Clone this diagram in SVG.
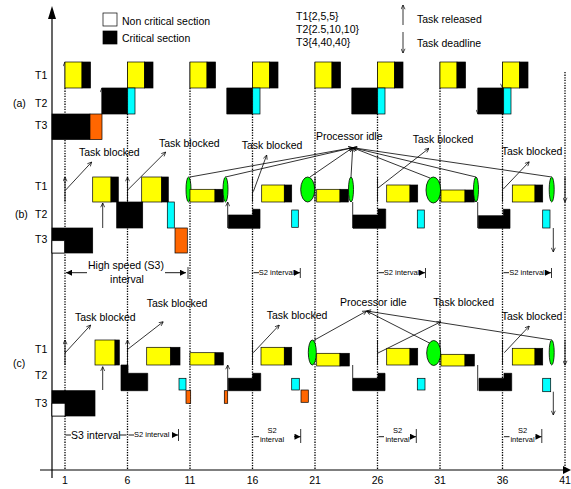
<svg xmlns="http://www.w3.org/2000/svg" width="571" height="489" viewBox="0 0 571 489">
<defs>
<style>
text{font-family:"Liberation Sans",Arial,sans-serif;font-size:10.5px;fill:#000}
.s{font-size:7.5px}
.m{text-anchor:middle}
.y{fill:#ffff00;stroke:#000;stroke-width:0.7}
.k{fill:#000;stroke:#000;stroke-width:0.7}
.c{fill:#00ffff;stroke:#000;stroke-width:0.7}
.o{fill:#ff6600;stroke:#000;stroke-width:0.7}
.g{fill:#00ff00;stroke:#000;stroke-width:0.8}
.w{fill:#fff;stroke:#000;stroke-width:0.7}
.dot{stroke:#000;stroke-width:1.3;stroke-dasharray:1.3 1.3;fill:none}
.ln{stroke:#000;stroke-width:0.8;fill:none}
.dbl{stroke:#000;stroke-width:0.8;fill:none;marker-start:url(#ah);marker-end:url(#ah)}
.ar{stroke:#000;stroke-width:0.8;fill:none;marker-end:url(#ah)}
.fa{stroke:#000;stroke-width:0.9;fill:none;marker-end:url(#fh)}
</style>
<marker id="ah" viewBox="0 0 10 10" refX="9.5" refY="5" markerWidth="5" markerHeight="5" markerUnits="userSpaceOnUse" orient="auto-start-reverse"><path d="M1,1 L9.5,5 L1,9" fill="none" stroke="#000" stroke-width="1.4"/></marker>
<marker id="fh" viewBox="0 0 10 10" refX="10" refY="5" markerWidth="7" markerHeight="6" markerUnits="userSpaceOnUse" orient="auto-start-reverse"><path d="M0,0 L10,5 L0,10 z" fill="#000"/></marker>
</defs>
<rect width="571" height="489" fill="#fff"/>

<g id="connectors">
  <!-- dotted time lines -->
  <path class="dot" d="M65,88V470M127.5,88V470M190,88V470M252.5,88V470M315,88V470M377.5,88V470M440,88V470M502.5,88V470M565,72V470"/>
  <!-- axes -->
  <path d="M52,16V478" stroke="#000" stroke-width="1.2"/>
  <path d="M52,6L48,19H56Z" fill="#000"/>
  <path d="M40,470H564" stroke="#000" stroke-width="1.2"/>
  <path d="M571,470L563,466V474Z" fill="#000"/>
  <!-- legend arrows -->
  <path class="ar" d="M403,25V5"/>
  <path class="ar" d="M403,32V53"/>
  <!-- (a) release/deadline arrows -->
  <path class="dbl" d="M65,62V88M127.5,62V88M190,62V88M252.5,62V88M315,62V88M377.5,62V88M440,62V88M502.5,62V88"/>
  <path class="dbl" d="M102,88V114M227,88V114M352,88V114M478,88V114"/>
  <!-- (b) arrows -->
  <path class="ar" d="M65,202V177"/>
  <path class="dbl" d="M127.5,177V202M252.5,177V202M315,177V202M377.5,177V202M440,177V202M502.5,177V202M565,177V202"/>
  <path class="ar" d="M102.7,228V203"/>
  <path class="dbl" d="M227.7,202V228M352.7,202V228M477.7,202V228M553.3,228V252"/>
  <!-- (b) task blocked arrows -->
  <path class="ar" d="M65.7,190L91.7,162"/>
  <path class="ar" d="M127.7,190L165.7,152"/>
  <path class="ar" d="M253.3,191.7L266.7,155"/>
  <path class="ar" d="M378,188L429,148.3"/>
  <path class="ar" d="M503.3,189L529.3,161.7"/>
  <!-- (b) processor idle lines -->
  <path class="ar" d="M190,177L352.7,147.7"/>
  <path class="ar" d="M225.5,177L352.7,147.7"/>
  <path class="ar" d="M310,177L352.7,147.7"/>
  <path class="ar" d="M351,177L352.7,147.7"/>
  <path class="ar" d="M430,178L352.7,147.7"/>
  <path class="ar" d="M476,177L352.7,147.7"/>
  <path class="ar" d="M551.7,177L352.7,147.7"/>
  <!-- (b) intervals -->
  <path class="fa" d="M87,272.7H66"/>
  <path class="fa" d="M165,272.7H186"/>
  <path class="ln" d="M188,267V279"/>
  <path class="fa" d="M259,272.7H253.5M294,272.7H300"/>
  <path class="ln" d="M300.3,268V278"/>
  <path class="fa" d="M384,272.7H378.5M419,272.7H425"/>
  <path class="ln" d="M425.5,268V278"/>
  <path class="fa" d="M509,272.7H503.5M545,272.7H551"/>
  <path class="ln" d="M551.5,268V278"/>
  <!-- (c) arrows -->
  <path class="ar" d="M65,365V340"/>
  <path class="dbl" d="M127.5,340V365M252.5,340V365M377.5,340V365M440,340V365M502.5,340V365M565,340V365"/>
  <path class="ar" d="M102.7,390V366.7"/>
  <path class="dbl" d="M227.7,365V390.7M352.7,365V390.7M477.7,365V390.7M553.3,391.7V415"/>
  <!-- (c) task blocked arrows -->
  <path class="ar" d="M65,353L90.7,325"/>
  <path class="ar" d="M127.7,349.3L163.3,321.7"/>
  <path class="ar" d="M253.3,352.7L279.3,325"/>
  <path class="ar" d="M378,353L441,321.7"/>
  <path class="ar" d="M504.3,352.7L529.3,326"/>
  <!-- (c) processor idle lines -->
  <path class="ar" d="M313.3,340.7L366.7,311"/>
  <path class="ar" d="M430,343.3L366.7,311"/>
  <path class="ar" d="M551.7,340L366.7,311"/>
  <!-- (c) intervals -->
  <path class="fa" d="M71,435H65.5M120,435H126.5M134,435H128.5M172,435H178"/>
  <path class="ln" d="M178.5,429V441"/>
  <path class="fa" d="M259,436.7H253.5M294,436.7H300.5"/>
  <path class="ln" d="M300.7,429V443"/>
  <path class="fa" d="M384,436.7H378.5M410,436.7H416"/>
  <path class="ln" d="M416.3,429V443"/>
  <path class="fa" d="M509.5,436.7H504M535.5,436.7H541.5"/>
  <path class="ln" d="M541.8,429V443"/>
</g>

<g id="legend">
  <rect class="w" x="103" y="13" width="14" height="13"/>
  <text x="122" y="25">Non critical section</text>
  <rect class="k" x="103" y="31" width="14" height="13"/>
  <text x="122" y="41.5">Critical section</text>
  <text x="296" y="19.5">T1{2,5,5}</text>
  <text x="296" y="32.5">T2{2.5,10,10}</text>
  <text x="296" y="45.5">T3{4,40,40}</text>
  <text x="417" y="23">Task released</text>
  <text x="417" y="46.5">Task deadline</text>
</g>

<g id="axis-labels">
  <text class="m" x="65" y="483.5">1</text>
  <text class="m" x="127.5" y="483.5">6</text>
  <text class="m" x="190" y="483.5">11</text>
  <text class="m" x="252.5" y="483.5">16</text>
  <text class="m" x="315" y="483.5">21</text>
  <text class="m" x="377.5" y="483.5">26</text>
  <text class="m" x="440" y="483.5">31</text>
  <text class="m" x="502.5" y="483.5">36</text>
  <text class="m" x="565" y="483.5">41</text>
</g>

<g id="section-a">
  <text x="35" y="79">T1</text>
  <text x="13" y="107">(a)</text>
  <text x="35" y="107">T2</text>
  <text x="35" y="129">T3</text>
  <g id="a-T1">
    <rect class="y" x="65" y="62" width="17" height="26"/><rect class="k" x="82" y="62" width="8.5" height="26"/>
    <rect class="y" x="127.5" y="62" width="17" height="26"/><rect class="k" x="144.5" y="62" width="8.5" height="26"/>
    <rect class="y" x="190" y="62" width="17" height="26"/><rect class="k" x="207" y="62" width="8.5" height="26"/>
    <rect class="y" x="252.5" y="62" width="17" height="26"/><rect class="k" x="269.5" y="62" width="8.5" height="26"/>
    <rect class="y" x="315" y="62" width="17" height="26"/><rect class="k" x="332" y="62" width="8.5" height="26"/>
    <rect class="y" x="377.5" y="62" width="17" height="26"/><rect class="k" x="394.5" y="62" width="8.5" height="26"/>
    <rect class="y" x="440" y="62" width="17" height="26"/><rect class="k" x="457" y="62" width="8.5" height="26"/>
    <rect class="y" x="502.5" y="62" width="17" height="26"/><rect class="k" x="519.5" y="62" width="8.5" height="26"/>
  </g>
  <g id="a-T2">
    <rect class="k" x="102" y="88" width="25.7" height="26"/><rect class="c" x="127.7" y="88" width="7.3" height="26"/>
    <rect class="k" x="227" y="88" width="25.7" height="26"/><rect class="c" x="252.7" y="88" width="7.3" height="26"/>
    <rect class="k" x="352" y="88" width="25.7" height="26"/><rect class="c" x="377.7" y="88" width="7.3" height="26"/>
    <rect class="k" x="478" y="88" width="25.7" height="26"/><rect class="c" x="503.7" y="88" width="7.3" height="26"/>
  </g>
  <g id="a-T3">
    <rect class="k" x="52" y="114" width="38" height="25.5"/><rect class="o" x="90" y="114" width="12" height="25.5"/>
  </g>
</g>

<g id="section-b">
  <text x="35" y="190">T1</text>
  <text x="15" y="218">(b)</text>
  <text x="35" y="218">T2</text>
  <text x="35" y="243">T3</text>
  <g id="b-T1">
    <rect class="y" x="92.7" y="177" width="18.3" height="25"/><rect class="k" x="111" y="177" width="7.3" height="25"/>
    <rect class="y" x="141.7" y="177" width="20" height="25"/><rect class="k" x="161.7" y="177" width="6.6" height="25"/>
    <ellipse class="g" cx="188.5" cy="189.5" rx="2.5" ry="12.5"/>
    <rect class="y" x="190" y="189.3" width="25" height="12.7"/><rect class="k" x="215" y="189.3" width="8.3" height="12.7"/>
    <ellipse class="g" cx="225.5" cy="189.5" rx="2.5" ry="12.5"/>
    <rect class="y" x="261.7" y="185" width="22.6" height="17"/><rect class="k" x="284.3" y="185" width="7.4" height="17"/>
    <ellipse class="g" cx="307.7" cy="189.5" rx="7" ry="12.5"/>
    <rect class="y" x="316.7" y="189.3" width="23.3" height="12.7"/><rect class="k" x="340" y="189.3" width="8.3" height="12.7"/>
    <ellipse class="g" cx="351" cy="189.5" rx="2.5" ry="12.5"/>
    <rect class="y" x="386.7" y="185" width="23.3" height="17"/><rect class="k" x="410" y="185" width="7.7" height="17"/>
    <ellipse class="g" cx="433.3" cy="190" rx="7.3" ry="13"/>
    <rect class="y" x="441" y="190" width="24" height="12"/><rect class="k" x="465" y="190" width="9.3" height="12"/>
    <ellipse class="g" cx="476" cy="189.5" rx="2.5" ry="12.5"/>
    <rect class="y" x="512.3" y="185" width="22.7" height="17"/><rect class="k" x="535" y="185" width="7.7" height="17"/>
    <ellipse class="g" cx="551.7" cy="189.5" rx="2.5" ry="12.5"/>
  </g>
  <g id="b-T2">
    <rect class="k" x="116.7" y="202" width="26" height="26"/>
    <rect class="c" x="167.3" y="202" width="7" height="26"/>
    <path class="k" d="M228.3,215H252.7V209.3H260V228.3H228.3Z"/>
    <rect class="c" x="291.7" y="210" width="6.6" height="17.3"/>
    <path class="k" d="M353,215H378V209H385.7V228.3H353Z"/>
    <rect class="c" x="417.3" y="210" width="7" height="18"/>
    <path class="k" d="M478.3,215.7H503.3V209.3H510V228.3H478.3Z"/>
    <rect class="c" x="542.7" y="210" width="7.3" height="18"/>
  </g>
  <g id="b-T3">
    <rect class="k" x="52" y="228" width="40.7" height="25"/>
    <rect class="w" x="52" y="240.7" width="12.5" height="12.3"/>
    <rect class="o" x="175" y="228" width="12.3" height="25"/>
  </g>
  <g id="b-labels">
    <text x="79" y="156">Task blocked</text>
    <text x="159" y="147">Task blocked</text>
    <text x="241.7" y="149.3">Task blocked</text>
    <text x="316" y="140">Processor idle</text>
    <text x="412.7" y="142.7">Task blocked</text>
    <text x="501.7" y="155">Task blocked</text>
    <text x="88" y="269">High speed (S3)</text>
    <text class="m" x="127" y="283">interval</text>
    <text class="s m" x="276.5" y="275">S2 interval</text>
    <text class="s m" x="401.5" y="275">S2 interval</text>
    <text class="s m" x="527" y="275">S2 interval</text>
  </g>
</g>

<g id="section-c">
  <text x="35" y="352.5">T1</text>
  <text x="13" y="367">(c)</text>
  <text x="35" y="379">T2</text>
  <text x="35" y="407">T3</text>
  <g id="c-T1">
    <rect class="y" x="95" y="340" width="20" height="25"/><rect class="k" x="115" y="340" width="4.3" height="25"/>
    <rect class="y" x="146.7" y="347.3" width="24" height="17.7"/><rect class="k" x="170.7" y="347.3" width="9.3" height="17.7"/>
    <rect class="y" x="190" y="352.7" width="25" height="12.3"/><rect class="k" x="215" y="352.7" width="8.3" height="12.3"/>
    <rect class="y" x="261" y="347.3" width="23.3" height="17.7"/><rect class="k" x="284.3" y="347.3" width="7.4" height="17.7"/>
    <ellipse class="g" cx="312.3" cy="352.5" rx="4" ry="12.5"/>
    <rect class="y" x="316.7" y="353.3" width="23.3" height="12.7"/><rect class="k" x="340" y="353.3" width="9.3" height="12.7"/>
    <rect class="y" x="386.7" y="348.3" width="23.3" height="16.7"/><rect class="k" x="410" y="348.3" width="7.7" height="16.7"/>
    <ellipse class="g" cx="433.7" cy="353" rx="7" ry="12.5"/>
    <rect class="y" x="441" y="354.3" width="24" height="11.7"/><rect class="k" x="465" y="354.3" width="9.3" height="11.7"/>
    <rect class="y" x="512.3" y="348.3" width="22.7" height="16.7"/><rect class="k" x="535" y="348.3" width="7.7" height="16.7"/>
    <ellipse class="g" cx="551.7" cy="352.5" rx="2.5" ry="12.5"/>
  </g>
  <g id="c-T2">
    <path class="k" d="M121,365H128V373.3H147.7V390.7H121Z"/>
    <rect class="c" x="179" y="378.3" width="7" height="11.7"/>
    <path class="k" d="M228.3,378.3H252.7V373.3H260.7V390.7H228.3Z"/>
    <rect class="c" x="291.7" y="378.3" width="7.6" height="11.7"/>
    <path class="k" d="M353,378.3H378V373.3H385V390.7H353Z"/>
    <rect class="c" x="417.3" y="378.3" width="7.7" height="11.7"/>
    <path class="k" d="M479,378.3H504V373.3H511.7V390.7H479Z"/>
    <rect class="c" x="542.7" y="378.3" width="8" height="13.4"/>
  </g>
  <g id="c-T3">
    <rect class="k" x="52" y="390.7" width="43" height="25.3"/>
    <rect class="w" x="52" y="403.3" width="13" height="12.7"/>
    <rect class="o" x="186" y="390.7" width="4.7" height="12.6"/>
    <rect class="o" x="224.3" y="390.7" width="3.4" height="12.6"/>
    <rect class="o" x="301" y="390" width="7.3" height="12.3"/>
  </g>
  <g id="c-labels">
    <text x="75" y="320.7">Task blocked</text>
    <text x="146.7" y="306.7">Task blocked</text>
    <text x="266.7" y="319.3">Task blocked</text>
    <text x="340" y="305.7">Processor idle</text>
    <text x="433.3" y="306">Task blocked</text>
    <text x="501.7" y="320">Task blocked</text>
    <text x="71" y="438.5">S3 interval</text>
    <text class="s" x="134" y="437">S2 interval</text>
    <text class="s m" x="272" y="433.3">S2</text>
    <text class="s m" x="272" y="442">interval</text>
    <text class="s m" x="397.5" y="433.3">S2</text>
    <text class="s m" x="397.5" y="442">interval</text>
    <text class="s m" x="522.5" y="433.3">S2</text>
    <text class="s m" x="522.5" y="442">interval</text>
  </g>
</g>
</svg>
